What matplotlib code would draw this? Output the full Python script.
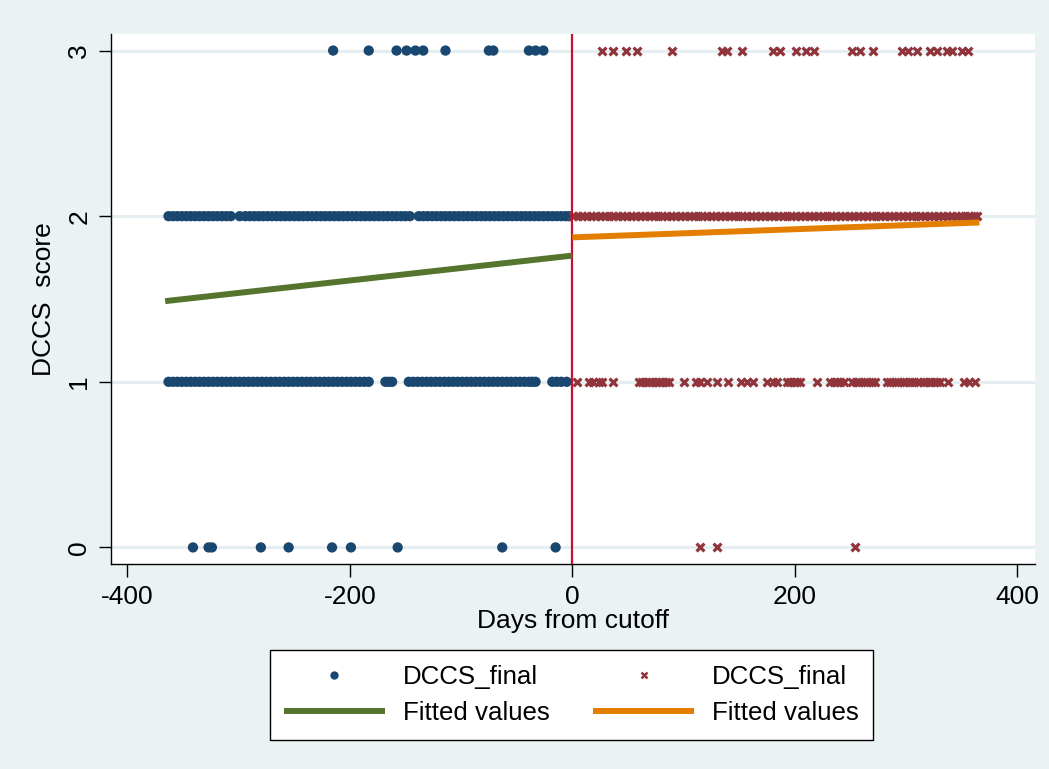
"""
Regression discontinuity plot: DCCS score against days from cutoff.
"""
import matplotlib
matplotlib.use('Agg')
import matplotlib.pyplot as plt
from matplotlib.lines import Line2D

plt.rcParams['font.family'] = ['Liberation Sans', 'DejaVu Sans']
plt.rcParams['axes.unicode_minus'] = False

# Days from cutoff for each observed score, before the cutoff (blue dots)
before_0 = [-341, -327, -324, -280, -255, -216, -199, -157, -63, -15]
before_1 = [-363, -359, -355, -351, -347, -343, -339, -335, -331, -327,
            -323, -319, -315, -311, -307, -303, -299, -295, -291, -287,
            -283, -279, -275, -271, -267, -263, -259, -255, -251, -247,
            -243, -239, -235, -231, -227, -223, -219, -215, -211, -207,
            -203, -199, -195, -191, -187, -183, -168, -165, -162, -147,
            -143, -139, -135, -131, -127, -123, -119, -115, -111, -107,
            -103, -99, -95, -91, -87, -83, -79, -75, -71, -67,
            -63, -59, -55, -51, -47, -43, -39, -36, -33, -18,
            -14, -10, -5]
before_2 = [-363, -359, -355, -351, -347, -343, -339, -335, -331, -327,
            -323, -319, -315, -311, -307, -299, -294, -290, -286, -282,
            -278, -274, -270, -266, -262, -258, -254, -250, -246, -242,
            -238, -234, -230, -226, -222, -218, -214, -210, -206, -202,
            -198, -194, -190, -186, -182, -178, -174, -170, -166, -162,
            -158, -154, -150, -146, -138, -134, -130, -126, -122, -118,
            -114, -110, -106, -102, -98, -94, -90, -86, -82, -78,
            -74, -70, -66, -62, -58, -54, -50, -46, -42, -38,
            -34, -30, -26, -22, -18, -14, -10, -6, -3]
before_3 = [-215, -183, -158, -149, -141, -134, -114, -75, -71, -39, -33, -26]

# Days from cutoff for each observed score, after the cutoff (red crosses)
after_0 = [115, 130, 254]
after_1 = [4, 15, 19, 24, 27, 37, 60, 63, 66, 69, 72, 75, 78, 81, 84, 87,
           100, 111, 115, 121, 130, 140, 152, 157, 162, 175, 180, 184, 193,
           196, 199, 202, 205, 220, 232, 235, 238, 241, 244, 251, 255, 258,
           262, 265, 269, 272, 283, 286, 290, 293, 297, 300, 304, 307, 311,
           315, 318, 322, 325, 328, 331, 338, 352, 357, 362]
after_2 = [1, 5, 9, 13, 17, 21, 25, 29, 33, 37, 41, 45, 49, 53, 57, 61,
           65, 69, 73, 77, 81, 85, 89, 93, 97, 101, 105, 109, 113, 117,
           121, 125, 129, 133, 137, 141, 145, 149, 153, 157, 161, 165,
           169, 173, 177, 181, 185, 189, 193, 197, 201, 205, 209, 213,
           217, 221, 225, 229, 233, 237, 241, 245, 249, 253, 257, 261,
           265, 269, 273, 277, 281, 285, 289, 293, 297, 301, 305, 309,
           313, 317, 321, 325, 329, 333, 337, 341, 345, 349, 353, 357,
           361, 364]
after_3 = [27, 37, 48, 58, 90, 135, 139, 153, 180, 187, 201, 210, 217, 251,
           259, 270, 296, 302, 310, 322, 328, 337, 341, 350, 356]

# Linear fits on each side (end points)
fit_before_x = [-366, 0]
fit_before_y = [1.487, 1.762]
fit_after_x = [0, 366]
fit_after_y = [1.872, 1.962]

x_ticks = [-400, -200, 0, 200, 400]
y_ticks = [0, 1, 2, 3]

BG = '#EAF2F3'
BLUE = '#1A476F'
RED = '#90353B'
GREEN = '#55752F'
ORANGE = '#E37E00'
FS = 19

fig = plt.figure(figsize=(10.49, 7.69), dpi=100, facecolor=BG)
ax = fig.add_axes([0.1055, 0.2666, 0.8812, 0.6892])
ax.set_facecolor('white')

# grid lines at each score
for yv in y_ticks:
    ax.axhline(yv, color='#E4EDF0', lw=2.2, zorder=0)

before = [before_0, before_1, before_2, before_3]
after = [after_0, after_1, after_2, after_3]
for score, days in zip(y_ticks, before):
    ax.scatter(days, [score] * len(days), s=55, color=BLUE,
               edgecolors='none', zorder=2)
for score, days in zip(y_ticks, after):
    ax.scatter(days, [score] * len(days), s=32, marker='x', color=RED,
               linewidths=2.3, zorder=2)

ax.axvline(0, color='#C8102E', lw=1.6, zorder=3)

ax.plot(fit_before_x, fit_before_y, color=GREEN, lw=4.3,
        solid_capstyle='butt', zorder=4)
ax.plot(fit_after_x, fit_after_y, color=ORANGE, lw=4.3,
        solid_capstyle='butt', zorder=4)

ax.set_xlim(-415, 416)
ax.set_ylim(-0.1, 3.1)
ax.set_xticks(x_ticks)
ax.set_yticks(y_ticks)
ax.set_yticklabels([str(v) for v in y_ticks], rotation=90, va='center')
ax.tick_params(axis='both', labelsize=FS, length=9, width=1, color='black')
ax.tick_params(axis='x', pad=6)
ax.tick_params(axis='y', pad=5)

for side in ['top', 'right']:
    ax.spines[side].set_visible(False)
for side in ['left', 'bottom']:
    ax.spines[side].set_linewidth(1)
    ax.spines[side].set_color('black')

ax.set_xlabel('Days from cutoff', fontsize=FS, labelpad=0)
ax.set_ylabel('DCCS  score', fontsize=FS, labelpad=8)

handles = [
    Line2D([], [], ls='none', marker='o', markersize=6, color=BLUE,
           markeredgewidth=0),
    Line2D([], [], color=GREEN, lw=4.3, solid_capstyle='butt'),
    Line2D([], [], ls='none', marker='x', markersize=5, color=RED,
           markeredgewidth=1.8),
    Line2D([], [], color=ORANGE, lw=4.3, solid_capstyle='butt'),
]
labels = ['DCCS_final', 'Fitted values', 'DCCS_final', 'Fitted values']
leg = fig.legend(handles, labels, loc='center', bbox_to_anchor=(0.5448, 0.0962),
                 ncol=2, fontsize=18.6, frameon=True, fancybox=False,
                 edgecolor='black', facecolor='white', framealpha=1,
                 handlelength=3.9, handletextpad=0.7, columnspacing=1.7,
                 borderpad=0.55, labelspacing=0.5)
leg.get_frame().set_linewidth(1)

fig.savefig('out.png', dpi=100, facecolor=BG)
